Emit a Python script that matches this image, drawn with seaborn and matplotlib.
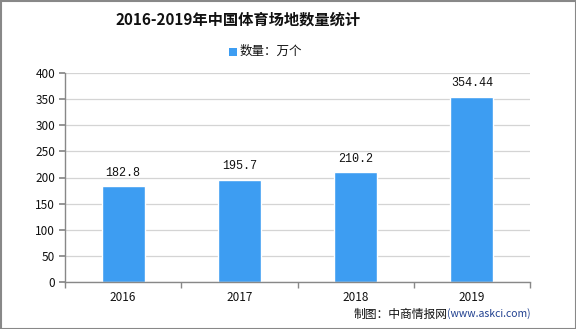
import matplotlib
matplotlib.use("Agg")
import matplotlib.pyplot as plt
import seaborn as sns
import pandas as pd
from matplotlib.patches import Rectangle

years = ["2016", "2017", "2018", "2019"]
values = [182.8, 195.7, 210.2, 354.44]
labels = ["182.8", "195.7", "210.2", "354.44"]
yticks = [0, 50, 100, 150, 200, 250, 300, 350, 400]

sns.set_theme(style="white")
plt.rcParams['font.family'] = ['Noto Sans CJK SC', 'DejaVu Sans']

df = pd.DataFrame({"year": years, "value": values})
fig = plt.figure(figsize=(5.76, 3.29), dpi=100)
ax = fig.add_axes([65/576, 1-282/329, (530-65)/576, (282-73)/329])

bar_color = "#3d9df2"
sns.barplot(data=df, x="year", y="value", color=bar_color, width=0.37,
            saturation=1, ax=ax)

for i, (v, lab) in enumerate(zip(values, labels)):
    ax.text(i, v + 14, lab, ha="center", va="bottom", fontsize=8.5,
            family=['Liberation Mono', 'DejaVu Sans Mono'], color="#111111")

ax.set_ylim(0, 400)
ax.set_xlim(-0.5, 3.5)
ax.set_yticks(yticks)
ax.set_yticklabels([str(t) for t in yticks], fontsize=8.5, color="#111111")
ax.set_xlabel("")
ax.set_ylabel("")
ax.yaxis.grid(True, color="#d4d4d4", linewidth=0.9)
ax.set_axisbelow(True)
for s in ["top", "right"]:
    ax.spines[s].set_visible(False)
for s in ["left", "bottom"]:
    ax.spines[s].set_color("#888888")
    ax.spines[s].set_linewidth(1.0)
ax.tick_params(axis="y", left=True, length=4, color="#888888", pad=3)
ax.set_xticks([0, 1, 2, 3])
ax.set_xticklabels(years, fontsize=8.5, color="#111111")
ax.set_xticks([-0.5, 0.5, 1.5, 2.5, 3.5], minor=True)
ax.tick_params(axis="x", which="major", bottom=False, length=0, pad=6.5)
ax.tick_params(axis="x", which="minor", bottom=True, length=4, color="#888888")

fig.text(238/576, 1-20/329, "2016-2019年中国体育场地数量统计", ha="center", va="center",
         fontsize=11, fontweight="bold", color="#111111")
fig.patches.append(Rectangle((229/576, 1-56/329), 8/576, 8/329, transform=fig.transFigure,
                             facecolor=bar_color, edgecolor="none"))
fig.text(240/576, 1-51/329, "数量：万个", ha="left", va="center", fontsize=9, color="#111111")
fig.text(448/576, 1-314/329, "制图：中商情报网", ha="right", va="center", fontsize=8.5, color="#111111")
fig.text(531/576, 1-314/329, "(www.askci.com)", ha="right", va="center", fontsize=7.5,
         color="#1f3f8f")

fig.patches.append(Rectangle((0.5/576, 0.5/329), 1-1/576, 1-1/329, transform=fig.transFigure,
                             facecolor="none", edgecolor="#888888", linewidth=1.5))

fig.savefig("out.png", dpi=100)
